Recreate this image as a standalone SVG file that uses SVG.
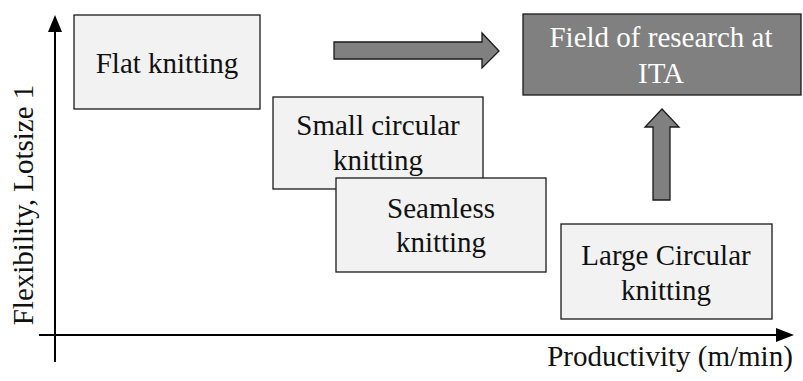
<svg xmlns="http://www.w3.org/2000/svg" width="803" height="381" viewBox="0 0 803 381">
  <style>
    .box { fill: #f2f2f2; stroke: #1a1a1a; stroke-width: 1.3; }
    .dark { fill: #808080; stroke: #1a1a1a; stroke-width: 1.3; }
    .arrow { fill: #808080; stroke: #1a1a1a; stroke-width: 1.3; stroke-linejoin: miter; }
    .axis { stroke: #000; stroke-width: 2; fill: none; }
    text { font-family: "Liberation Serif", "Times New Roman", serif; font-size: 29px; text-anchor: middle; fill: #111; }
    .light { fill: #ffffff; }
  </style>
  <defs>
    <marker id="head" markerWidth="8" markerHeight="8" refX="7" refY="4" orient="auto" markerUnits="userSpaceOnUse" viewBox="0 0 8 8">
      <path d="M0,0 L8,4 L0,8 Z" fill="#000"/>
    </marker>
  </defs>

  <!-- axes -->
  <g id="axes">
    <line class="axis" x1="55" y1="362" x2="55" y2="30"/>
    <path d="M48,32 L55,15 L62,32 Z" fill="#000"/>
    <line class="axis" x1="39" y1="335" x2="778" y2="335"/>
    <path d="M776,328 L794,335 L776,342 Z" fill="#000"/>
    <text x="670" y="366">Productivity (m/min)</text>
    <text transform="translate(33,205) rotate(-90)">Flexibility, Lotsize 1</text>
  </g>

  <g id="flat">
    <rect class="box" x="74" y="15" width="186" height="94"/>
    <text x="167" y="73">Flat knitting</text>
  </g>

  <g id="small-circular">
    <rect class="box" x="273" y="97" width="210" height="92"/>
    <text x="378" y="135">Small circular</text>
    <text x="378" y="170">knitting</text>
  </g>

  <g id="seamless">
    <rect class="box" x="336" y="178" width="210" height="94"/>
    <text x="441" y="218">Seamless</text>
    <text x="441" y="252">knitting</text>
  </g>

  <g id="large-circular">
    <rect class="box" x="561" y="224" width="211" height="95"/>
    <text x="666" y="265">Large Circular</text>
    <text x="666" y="300">knitting</text>
  </g>

  <g id="research">
    <rect class="dark" x="523" y="14" width="278" height="81"/>
    <text class="light" x="661" y="47">Field of research at</text>
    <text class="light" x="661" y="83">ITA</text>
  </g>

  <g id="connectors">
    <path class="arrow" d="M334,42 L482,42 L482,33 L499,51 L482,68 L482,59 L334,59 Z"/>
    <path class="arrow" d="M653,200 L653,127 L645,127 L662,109 L679,127 L670,127 L670,200 Z"/>
  </g>
</svg>
